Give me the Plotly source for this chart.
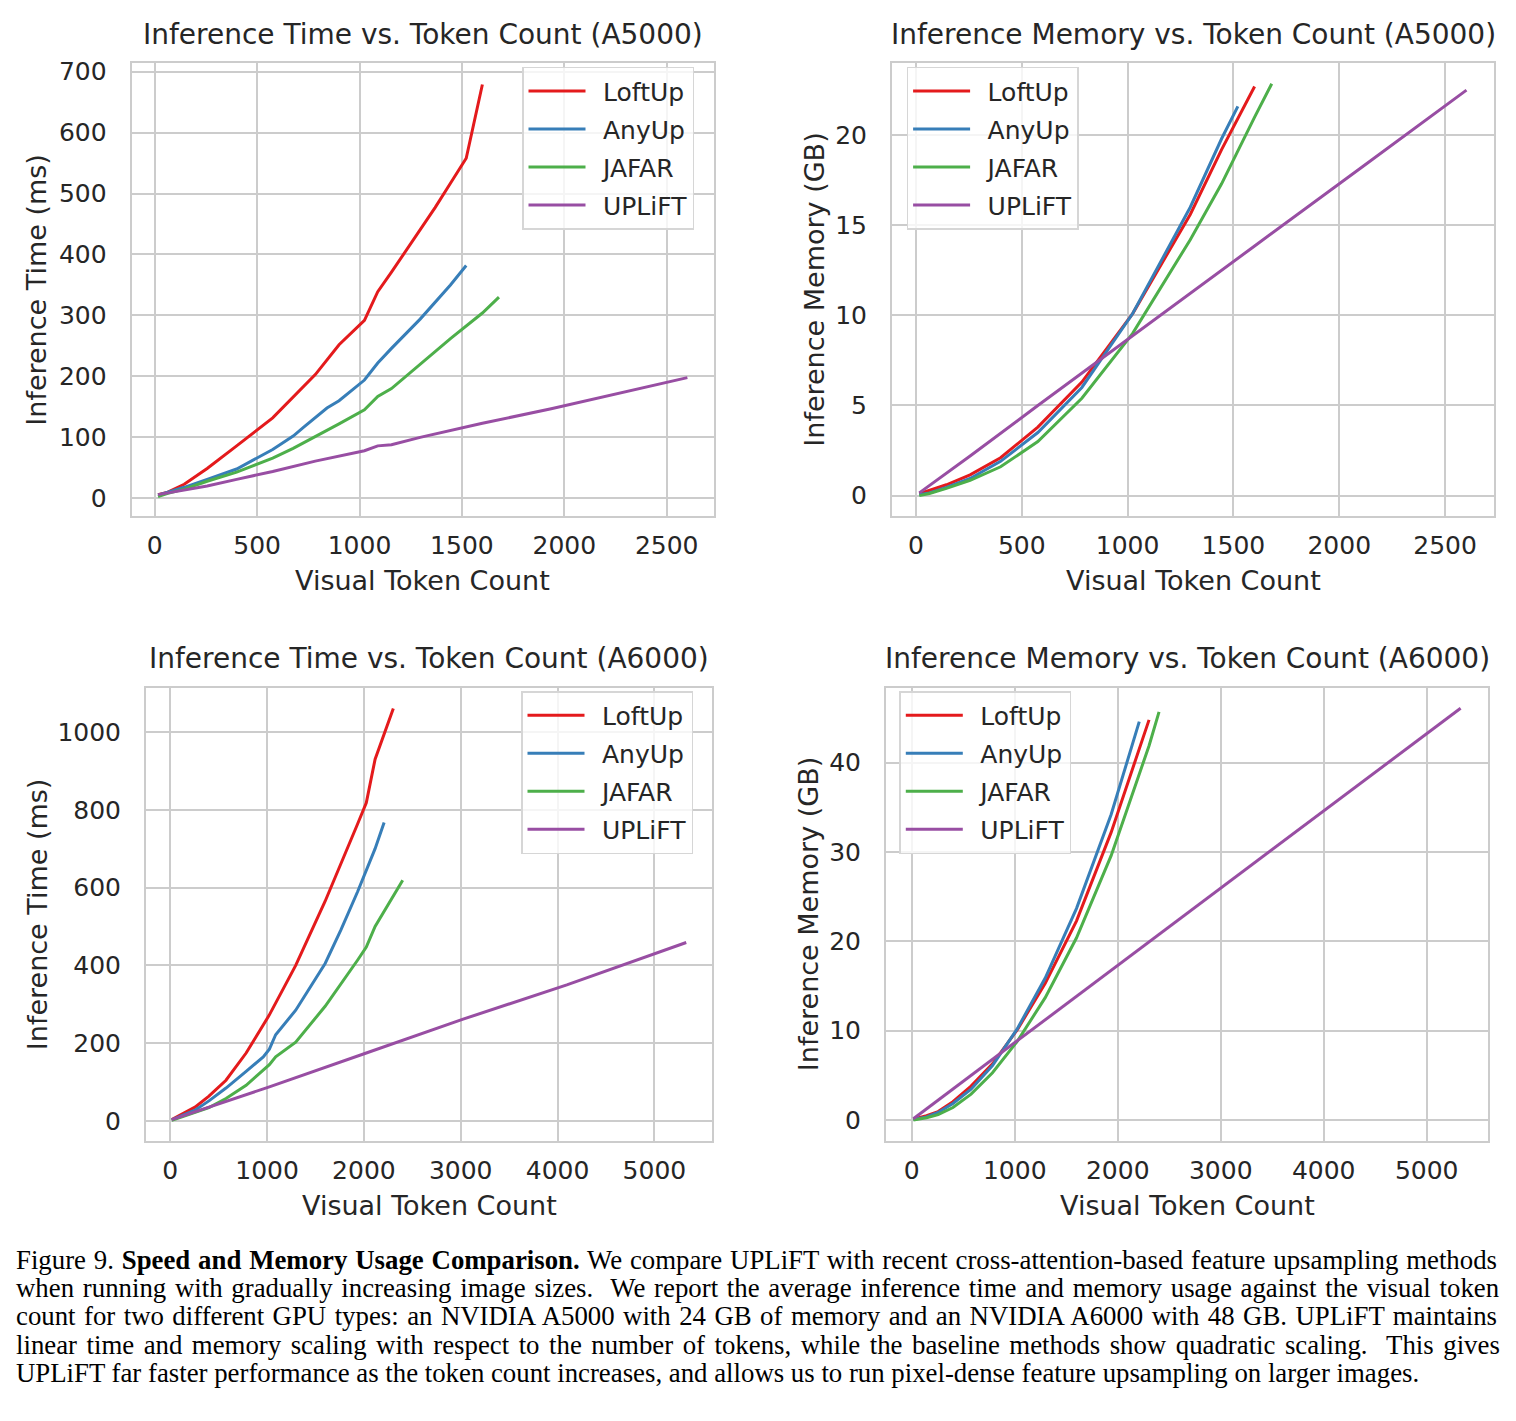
import plotly.graph_objects as go

# ---------------- data ----------------
# A5000 inference time (ms)
a5_time_loftup_tok = [16, 64, 144, 256, 400, 576, 784, 900, 1024, 1089, 1156, 1225, 1296, 1369, 1444, 1521, 1600]
a5_time_loftup_ms = [6, 10, 23, 49, 86, 132, 203, 252, 292, 339, 371, 405, 439, 477, 517, 558, 679]
a5_time_anyup_tok = [16, 64, 144, 256, 400, 576, 676, 729, 784, 841, 900, 1024, 1089, 1156, 1296, 1444, 1521]
a5_time_anyup_ms = [5, 10, 18, 31, 48, 80, 102, 117, 132, 148, 160, 194, 222, 246, 294, 350, 382]
a5_time_jafar_tok = [16, 64, 144, 256, 400, 576, 676, 784, 900, 1024, 1089, 1156, 1296, 1444, 1600, 1681]
a5_time_jafar_ms = [3, 8, 15, 28, 43, 66, 82, 101, 122, 145, 167, 180, 220, 262, 304, 330]
a5_time_uplift_tok = [16, 64, 144, 256, 400, 576, 784, 1024, 1089, 1156, 1296, 1600, 1936, 2304, 2601]
a5_time_uplift_ms = [6, 9, 14, 20, 31, 44, 61, 78, 86, 88, 100, 123, 147, 175, 198]

# A5000 inference memory (GB)
a5_mem_loftup_tok = [16, 64, 144, 256, 400, 576, 784, 1024, 1296, 1444, 1600]
a5_mem_loftup_gb = [0.1, 0.3, 0.6, 1.15, 2.1, 3.8, 6.3, 10.1, 15.6, 19.2, 22.7]
a5_mem_anyup_tok = [16, 64, 144, 256, 400, 576, 784, 1024, 1296, 1444, 1521]
a5_mem_anyup_gb = [0.05, 0.15, 0.45, 0.95, 1.9, 3.5, 6.0, 10.1, 16.0, 19.8, 21.6]
a5_mem_jafar_tok = [16, 64, 144, 256, 400, 576, 784, 1024, 1296, 1444, 1600, 1681]
a5_mem_jafar_gb = [0.0, 0.12, 0.4, 0.85, 1.6, 3.0, 5.4, 9.0, 14.2, 17.3, 21.0, 22.85]
a5_mem_uplift_tok = [16, 256, 576, 1024, 1600, 2116, 2601]
a5_mem_uplift_gb = [0.15, 2.2, 5.0, 8.85, 13.85, 18.3, 22.5]

# A6000 inference time (ms)
a6_time_loftup_tok = [16, 64, 144, 256, 400, 576, 784, 961, 1024, 1296, 1600, 1936, 2025, 2116, 2209, 2304]
a6_time_loftup_ms = [4, 10, 20, 36, 64, 105, 175, 245, 273, 400, 565, 764, 818, 930, 992, 1060]
a6_time_anyup_tok = [16, 64, 144, 256, 400, 576, 784, 961, 1024, 1089, 1296, 1600, 1764, 1936, 2116, 2209]
a6_time_anyup_ms = [3, 8, 16, 28, 52, 85, 128, 165, 185, 222, 285, 405, 492, 590, 700, 767]
a6_time_jafar_tok = [16, 64, 144, 256, 400, 576, 784, 1024, 1089, 1296, 1600, 1936, 2025, 2116, 2209, 2304, 2401]
a6_time_jafar_ms = [2, 6, 12, 22, 35, 58, 92, 145, 165, 203, 295, 414, 447, 500, 538, 578, 619]
a6_time_uplift_tok = [16, 1024, 2025, 3025, 4096, 5041, 5329]
a6_time_uplift_ms = [4, 88, 175, 262, 350, 435, 459]

# A6000 inference memory (GB)
a6_mem_loftup_tok = [16, 144, 256, 400, 576, 784, 1024, 1296, 1600, 1936, 2304]
a6_mem_loftup_gb = [0.1, 0.5, 0.95, 2.05, 3.8, 6.3, 10.1, 15.3, 22.3, 32.2, 44.8]
a6_mem_anyup_tok = [16, 144, 256, 400, 576, 784, 1024, 1296, 1600, 1936, 2209]
a6_mem_anyup_gb = [0.05, 0.35, 0.85, 1.85, 3.45, 6.1, 10.2, 15.9, 23.7, 34.2, 44.6]
a6_mem_jafar_tok = [16, 144, 256, 400, 576, 784, 1024, 1296, 1600, 1936, 2304, 2401]
a6_mem_jafar_gb = [0.0, 0.25, 0.6, 1.4, 2.9, 5.3, 8.8, 13.7, 20.4, 29.6, 41.9, 45.7]
a6_mem_uplift_tok = [16, 1024, 2025, 3025, 4096, 5329]
a6_mem_uplift_gb = [0.15, 8.85, 17.5, 26.2, 35.4, 46.1]

methods = ["LoftUp", "AnyUp", "JAFAR", "UPLiFT"]
colors = ["#e41a1c", "#377eb8", "#4daf4a", "#984ea3"]

titles = ["Inference Time vs. Token Count (A5000)", "Inference Memory vs. Token Count (A5000)",
          "Inference Time vs. Token Count (A6000)", "Inference Memory vs. Token Count (A6000)"]
xlabel = "Visual Token Count"
ylabels = ["Inference Time (ms)", "Inference Memory (GB)", "Inference Time (ms)", "Inference Memory (GB)"]

caption_lines = [
    "Figure 9. <b>Speed and Memory Usage Comparison.</b> We compare UPLiFT with recent cross-attention-based feature upsampling methods",
    "when running with gradually increasing image sizes.  We report the average inference time and memory usage against the visual token",
    "count for two different GPU types: an NVIDIA A5000 with 24 GB of memory and an NVIDIA A6000 with 48 GB. UPLiFT maintains",
    "linear time and memory scaling with respect to the number of tokens, while the baseline methods show quadratic scaling.  This gives",
    "UPLiFT far faster performance as the token count increases, and allows us to run pixel-dense feature upsampling on larger images.",
]

panels = [
    [(a5_time_loftup_tok, a5_time_loftup_ms), (a5_time_anyup_tok, a5_time_anyup_ms),
     (a5_time_jafar_tok, a5_time_jafar_ms), (a5_time_uplift_tok, a5_time_uplift_ms)],
    [(a5_mem_loftup_tok, a5_mem_loftup_gb), (a5_mem_anyup_tok, a5_mem_anyup_gb),
     (a5_mem_jafar_tok, a5_mem_jafar_gb), (a5_mem_uplift_tok, a5_mem_uplift_gb)],
    [(a6_time_loftup_tok, a6_time_loftup_ms), (a6_time_anyup_tok, a6_time_anyup_ms),
     (a6_time_jafar_tok, a6_time_jafar_ms), (a6_time_uplift_tok, a6_time_uplift_ms)],
    [(a6_mem_loftup_tok, a6_mem_loftup_gb), (a6_mem_anyup_tok, a6_mem_anyup_gb),
     (a6_mem_jafar_tok, a6_mem_jafar_gb), (a6_mem_uplift_tok, a6_mem_uplift_gb)],
]

# ---------------- layout geometry ----------------
W, H = 1516, 1421
FONT = "DejaVu Sans"
TXT = "#262626"
GRID = "#cccccc"

def px(x):
    return x / W

def py(y):
    return 1 - y / H

# pixel boxes of the four axes: (left, right, top, bottom)
boxes = [(131.6, 714, 57.5, 512.3), (892, 1494, 57.5, 512.3),
         (146, 712, 684.6, 1139.4), (886, 1488, 684.6, 1139.4)]
xranges = [[-113, 2731], [-113, 2731], [-250, 5595], [-250, 5595]]
yranges = [[-29.3, 713.8], [-1.14, 23.99], [-50, 1113.6], [-2.3, 48.4]]
xticks = [[0, 500, 1000, 1500, 2000, 2500], [0, 500, 1000, 1500, 2000, 2500],
          [0, 1000, 2000, 3000, 4000, 5000], [0, 1000, 2000, 3000, 4000, 5000]]
yticks = [list(range(0, 701, 100)), [0, 5, 10, 15, 20], list(range(0, 1001, 200)), [0, 10, 20, 30, 40]]
legend_pos = [(522, 61), (906.6, 61), (521, 688), (899.3, 688)]
ylabel_x = [37, 815, 37, 808]

fig = go.Figure()
for p in range(4):
    ax = "" if p == 0 else str(p + 1)
    leg = "legend" if p == 0 else "legend" + str(p + 1)
    for m, (xs, ys) in enumerate(panels[p]):
        fig.add_trace(go.Scatter(
            x=xs, y=ys, mode="lines", name="\u2002" + methods[m],
            line=dict(color=colors[m], width=3),
            xaxis="x" + ax, yaxis="y" + ax, legend=leg,
            legendgroup="g%d_%d" % (p, m), showlegend=True,
        ))

layout = dict(width=W, height=H, margin=dict(l=0, r=0, t=0, b=0),
              paper_bgcolor="white", plot_bgcolor="white",
              font=dict(family=FONT, color=TXT, size=25), showlegend=True)

annotations = []
for p in range(4):
    l, r, t, b = boxes[p]
    ax = "" if p == 0 else str(p + 1)
    common = dict(showline=True, mirror=True, linecolor=GRID, linewidth=2,
                  showgrid=True, gridcolor=GRID, gridwidth=1.8, zeroline=False,
                  ticks="", tickfont=dict(family=FONT, size=25, color=TXT))
    layout["xaxis" + ax] = dict(domain=[px(l), px(r)], range=xranges[p], tickvals=xticks[p],
                                anchor="y" + ax, ticklabelstandoff=6, **common)
    layout["yaxis" + ax] = dict(domain=[py(b), py(t)], range=yranges[p], tickvals=yticks[p],
                                anchor="x" + ax, ticklabelstandoff=18, **common)
    lx, ly = legend_pos[p]
    layout["legend" if p == 0 else "legend" + str(p + 1)] = dict(
        x=px(lx), y=py(ly), xanchor="left", yanchor="top",
        bgcolor="rgba(255,255,255,0.8)", bordercolor="#d6d6d6", borderwidth=1.5,
        font=dict(family=FONT, size=25, color=TXT), itemwidth=57, tracegroupgap=2.5,
        traceorder="grouped")
    cx = (l + r) / 2
    annotations.append(dict(text=titles[p], x=px(cx), y=py(t - 29), xref="paper", yref="paper",
                            xanchor="center", yanchor="middle", showarrow=False,
                            font=dict(family=FONT, size=28, color=TXT)))
    annotations.append(dict(text=xlabel, x=px(cx), y=py(b + 65), xref="paper", yref="paper",
                            xanchor="center", yanchor="middle", showarrow=False,
                            font=dict(family=FONT, size=27, color=TXT)))
    annotations.append(dict(text=ylabels[p], x=px(ylabel_x[p]), y=py((t + b) / 2), xref="paper", yref="paper",
                            xanchor="center", yanchor="middle", showarrow=False, textangle=-90,
                            font=dict(family=FONT, size=27, color=TXT)))

cap_start = len(annotations)
cap_y = [1259, 1287.5, 1316, 1344.5, 1373]
for i, line in enumerate(caption_lines):
    annotations.append(dict(text=line, x=px(14), y=py(cap_y[i]), xref="paper", yref="paper",
                            xanchor="left", yanchor="middle", align="left", showarrow=False,
                            font=dict(family="Liberation Serif", size=26.8, color="black")))
layout["annotations"] = annotations
fig.update_layout(**layout)

justify_idx = [cap_start + i for i in range(4)]
post = """
var gd = document.getElementById('{plot_id}');
var idxs = %s;
gd.querySelectorAll('g.annotation').forEach(function(g){
  var i = parseInt(g.getAttribute('data-index'));
  if (idxs.indexOf(i) < 0) return;
  var t = g.querySelector('text.annotation-text');
  if (!t) return;
  var rect = t.getBoundingClientRect();
  var n = (t.textContent.match(/ +/g) || []).length;
  var extra = 1505 - rect.right;
  if (n > 0 && extra > 0) { t.style.wordSpacing = (extra / n) + 'px'; }
});
""" % str(justify_idx)

fig.write_html("out.html", post_script=post)
